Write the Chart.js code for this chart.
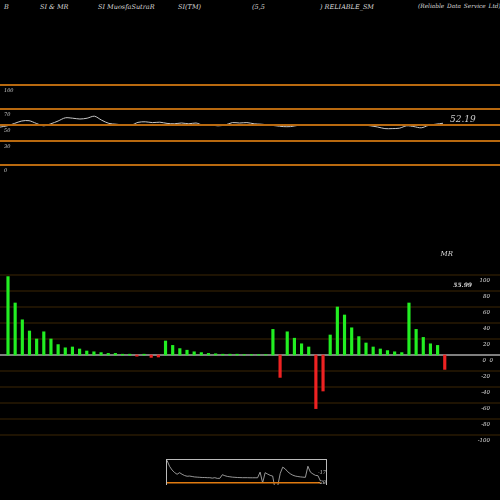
<!DOCTYPE html>
<html><head><meta charset="utf-8">
<script src="https://cdn.jsdelivr.net/npm/chart.js@4"></script>
<style>
html,body{margin:0;padding:0;background:#000;width:500px;height:500px;overflow:hidden}
canvas{position:absolute;left:0}
#t{position:absolute;top:3px;left:0;width:500px;height:12px;font:italic 6.5px "DejaVu Serif",serif;color:#ddd}
#t span{position:absolute;white-space:pre}
</style></head><body>
<div id="t"></div>
<canvas id="c1" style="top:0" width="500" height="250"></canvas>
<canvas id="c2" style="top:250px" width="500" height="200"></canvas>
<canvas id="c3" style="top:459px;left:166px" width="161" height="26"></canvas>
<script>
const titleParts=[["B",4],["SI & MR",40],["SI MuosfaSutraR",98],["SI(TM)",178],["(5,5",252],[") RELIABLE_SM",320],["(Reliable Data Service Ltd)",418]];
const rsiValues=[47.4,49,52,55,55.4,52,49,51.5,55,59,58.5,57.5,58.5,61,56,52,51,50,49.5,53.3,54,53,53.5,52,51.5,52.5,51.5,52.5,49.6,50,49,50,53,52.5,53,51.5,51,50,49,48,48,49.5,50,50,50,50,50,50,50,50,50,49,47.5,45.5,45.5,46,49,48,46.5,49.5,51,52.19];
const rsiLevels=[100,70,50,30,0];
const mrValues=[98,65,44,30,20,29,20,13,9,10,7.5,5,4,3,2,2,1,1,-1.5,1,-3,-2.5,17.5,12,8,6,4,3,2,1.5,1,1,1,0.5,0.5,0.5,0.5,32,-28,29,21,14,10,-67,-45,25,60,50,34,23,15,10,7.5,5.5,4,3,65,32,22,14,12,-18];
const mrTicks=[100,80,60,40,20,0,-20,-40,-60,-80,-100];
const t=document.getElementById('t');
titleParts.forEach(([s,x])=>{const e=document.createElement('span');e.textContent=s;e.style.left=x+'px';if(x>400){e.style.fontSize='5.8px';e.style.wordSpacing='1px';}t.appendChild(e);});
const step=7.16, xmin=-8/step, xmax=xmin+500/step;
const hidden={display:false};
const textPlug=(fn)=>({id:'txt'+Math.random(),afterDraw(c){fn(c,c.ctx,c.scales.y);}});
new Chart(document.getElementById('c1'),{
 type:'line',
 data:{datasets:[
  ...rsiLevels.map(v=>({data:[{x:xmin,y:v},{x:xmax,y:v}],borderColor:'#b8690f',borderWidth:2,pointRadius:0})),
  {data:rsiValues.map((v,i)=>({x:i*(443/61)/step+xmin,y:v})),borderColor:'#c8c8c8',borderWidth:1,pointRadius:0,tension:0.3}
 ]},
 options:{animation:false,responsive:false,plugins:{legend:hidden,tooltip:{enabled:false}},layout:{padding:0},
  scales:{x:{type:'linear',min:xmin,max:xmax,display:false,offset:false},y:{min:-106.25,max:206.25,display:false}}},
 plugins:[textPlug((c,ctx,y)=>{ctx.save();ctx.fillStyle='#ccc';ctx.font='italic 5px "DejaVu Serif",serif';
  rsiLevels.forEach(v=>ctx.fillText(String(v),4,y.getPixelForValue(v)+7));
  ctx.font='italic 9px "DejaVu Serif",serif';ctx.fillText('52.19',450,y.getPixelForValue(52.19)-1);ctx.restore();})]
});
new Chart(document.getElementById('c2'),{
 type:'bar',
 data:{datasets:[{data:mrValues.map((v,i)=>({x:i,y:v})),backgroundColor:mrValues.map(v=>v>=0?'#22ee22':'#ee2222'),barThickness:2.5}]},
 options:{animation:false,responsive:false,plugins:{legend:hidden,tooltip:{enabled:false}},layout:{padding:0},
  scales:{x:{type:'linear',min:xmin,max:xmax,display:false,offset:false,grid:{offset:false}},y:{min:-118.75,max:131.25,display:false}}},
 plugins:[{id:'grid',beforeDatasetsDraw(c){const ctx=c.ctx,y=c.scales.y;ctx.save();
  mrTicks.forEach(v=>{ctx.strokeStyle=v===0?'#aaaaaa':'#3d2605';ctx.lineWidth=v===0?1.5:1;ctx.beginPath();ctx.moveTo(0,y.getPixelForValue(v));ctx.lineTo(500,y.getPixelForValue(v));ctx.stroke();});
  ctx.restore();}},
  textPlug((c,ctx,y)=>{ctx.save();ctx.fillStyle='#ddd';ctx.font='italic 5.5px "DejaVu Serif",serif';ctx.textAlign='right';
  mrTicks.forEach(v=>ctx.fillText(v===0?'0  0':String(v),v===0?493:490,y.getPixelForValue(v)+7));
  ctx.font='italic 7px "DejaVu Serif",serif';ctx.fillText('MR',453,y.getPixelForValue(125)+1);
  ctx.font='bold italic 6px "DejaVu Serif",serif';ctx.fillText('55.99',472,y.getPixelForValue(88)+2);ctx.restore();})]
});
new Chart(document.getElementById('c3'),{
 type:'line',
 data:{datasets:[
  {data:[{x:0,y:-28},{x:61,y:-28}],borderColor:'#e07a10',borderWidth:1.5,pointRadius:0},
  {data:mrValues.map((v,i)=>({x:i,y:v})),borderColor:'#bbb',borderWidth:0.8,pointRadius:0}]},
 options:{animation:false,responsive:false,plugins:{legend:hidden,tooltip:{enabled:false}},layout:{padding:{top:1,left:1,right:4}},
  scales:{x:{type:'linear',min:0,max:62,display:false},y:{min:-40,max:100,display:false}}},
 plugins:[{id:'box',afterDraw(c){const ctx=c.ctx;ctx.save();ctx.strokeStyle='#bbb';ctx.lineWidth=1;ctx.strokeRect(0.5,0.5,160,30);
  ctx.fillStyle='#ccc';ctx.font='italic 5px "DejaVu Serif",serif';ctx.fillText('-17',152,15);ctx.fillText('-28',152,25);ctx.restore();}}]
});
</script></body></html>
